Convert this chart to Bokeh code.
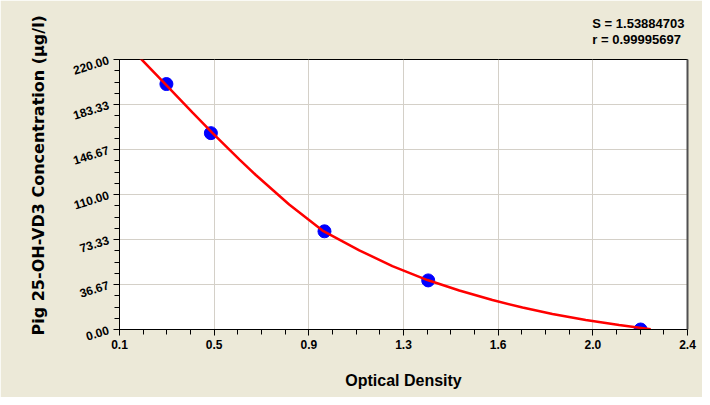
from bokeh.plotting import figure
from bokeh.models import Range1d, FixedTicker, Title, ColumnDataSource, LinearAxis
from bokeh.embed import file_html
from bokeh.resources import INLINE

# ---- data ----
od_points = [0.29, 0.47, 0.93, 1.35, 2.21]
conc_points = [200.0, 160.0, 80.0, 40.0, 0.0]

curve_od = [0.185, 0.274, 0.396, 0.477, 0.585, 0.652, 0.787, 0.922, 1.071, 1.205,
            1.347, 1.476, 1.610, 1.732, 1.853, 1.988, 2.123, 2.251]
curve_conc = [221.0, 202.3, 176.7, 160.1, 138.6, 125.9, 101.9, 80.6, 64.5, 51.7,
              40.3, 31.8, 24.0, 17.9, 12.6, 7.7, 3.7, 0.2]

x_tick_labels = ["0.1", "0.5", "0.9", "1.3", "1.6", "2.0", "2.4"]
y_tick_labels = ["0.00", "36.67", "73.33", "110.00", "146.67", "183.33", "220.00"]
x_min, x_max = 0.1, 2.4
y_min, y_max = 0.0, 220.0

stat_lines = ["S = 1.53884703", "r = 0.99995697"]
x_title = "Optical Density"
y_title = "Pig 25-OH-VD3 Concentration (\u00b5g/l)"

# ---- ticks ----
n = len(x_tick_labels) - 1
x_ticks = [x_min + i * (x_max - x_min) / n for i in range(n + 1)]
y_ticks = [y_min + i * (y_max - y_min) / n for i in range(n + 1)]
x_minor = [x_min + i * (x_max - x_min) / (n * 4) for i in range(n * 4 + 1)]
y_minor = [y_min + i * (y_max - y_min) / (n * 4) for i in range(n * 4 + 1)]

BG = "#ECE9D8"
FONT = "Liberation Sans"
W, H = 702, 397

p = figure(width=W, height=H, output_backend="svg", toolbar_location=None,
           x_range=Range1d(x_min, x_max), y_range=Range1d(y_min, y_max),
           min_border_left=119, min_border_right=15, min_border_top=59,
           min_border_bottom=68)
p.background_fill_color = "white"
p.border_fill_color = BG
p.outline_line_color = "black"
p.outline_line_width = 1

p.xaxis.ticker = FixedTicker(ticks=x_ticks, minor_ticks=x_minor)
p.yaxis.ticker = FixedTicker(ticks=y_ticks, minor_ticks=y_minor)
p.xaxis.major_label_overrides = {t: l for t, l in zip(x_ticks, x_tick_labels)}
p.yaxis.major_label_overrides = {t: l for t, l in zip(y_ticks, y_tick_labels)}

for ax in (p.xaxis[0], p.yaxis[0]):
    ax.axis_line_color = "black"
    ax.major_tick_line_color = "black"
    ax.minor_tick_line_color = "black"
    ax.major_tick_out = 6
    ax.major_tick_in = 0
    ax.minor_tick_out = 5
    ax.minor_tick_in = 0
    ax.major_label_text_font = FONT
    ax.major_label_text_font_style = "bold"
    ax.major_label_text_font_size = "12px"
    ax.major_label_text_color = "black"

p.yaxis.major_label_orientation = 0.3
p.xaxis.major_label_standoff = 4
p.xaxis.axis_label = x_title
p.xaxis.axis_label_text_font = FONT
p.xaxis.axis_label_text_font_style = "bold"
p.xaxis.axis_label_text_font_size = "16px"
p.xaxis.axis_label_text_color = "black"
p.xaxis.axis_label_standoff = 20

p.grid.grid_line_color = "#D4D0C8"
p.grid.grid_line_width = 1

# darker shadow edge on the right side of the plot frame (no ticks, no labels)
p.add_layout(LinearAxis(ticker=FixedTicker(ticks=[], minor_ticks=[]),
                        major_tick_line_color=None, minor_tick_line_color=None,
                        axis_line_color="#505050", axis_line_width=2), "right")

pts = ColumnDataSource(dict(x=od_points, y=conc_points))
crv = ColumnDataSource(dict(x=curve_od, y=curve_conc))
p.scatter("x", "y", source=pts, size=13, fill_color="#0000FF", line_color="#0000FF")
p.line("x", "y", source=crv, line_color="#FF0000", line_width=2.5)

# stats text in the top panel
p.add_layout(Title(text="\n".join(stat_lines), align="right", offset=3, standoff=25,
                   text_font=FONT, text_font_style="bold", text_font_size="13px",
                   text_line_height=1.1, text_color="black"), "above")
# vertical axis title in the left panel
p.add_layout(Title(text=y_title, align="left", offset=-6, standoff=40,
                   text_font="DejaVu Sans", text_font_style="bold", text_font_size="16px",
                   text_color="black"), "left")

open("out.html", "w").write(file_html(p, INLINE))
